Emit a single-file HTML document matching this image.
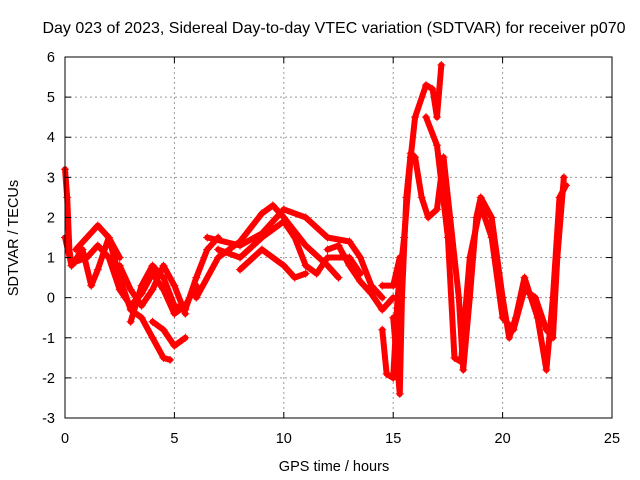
<!DOCTYPE html>
<html><head><meta charset="utf-8"><style>
body{margin:0;background:#fff;}
svg{display:block;font-family:"Liberation Sans",sans-serif;}
</style></head><body>
<svg id="chart" width="640" height="480">
<rect width="640" height="480" fill="#fff"/>
<text x="334" y="33" font-size="16" text-anchor="middle">Day 023 of 2023, Sidereal Day-to-day VTEC variation (SDTVAR) for receiver p070</text>
<g id="grid"></g><g id="marks"></g><g id="axes"></g>
<text x="334" y="471" font-size="14.5" text-anchor="middle">GPS time / hours</text>
<text transform="translate(18,238) rotate(-90)" font-size="14.5" text-anchor="middle">SDTVAR / TECUs</text>
</svg>
<script>
const xTicks=[0,5,10,15,20,25];
const yTicks=[-3,-2,-1,0,1,2,3,4,5,6];
const track1=[[0,3.2],[0.1,2.5],[0.2,1.2],[0.3,0.8]];
const track2=[[0,1.5],[0.3,0.8],[0.8,1.2],[1.2,0.3],[1.5,0.7],[2,1.5],[2.5,1.0]];
const track3=[[0.5,1.2],[1,1.5],[1.5,1.8],[2,1.5],[2.5,0.5],[3,-0.3],[3.5,-0.5],[4,-1.0],[4.5,-1.5],[4.8,-1.55]];
const track4=[[2.5,0.8],[3,0.2],[3.5,-0.2],[4,0.2],[4.5,0.8],[5,0.3],[5.5,-0.4]];
const track5=[[3,-0.6],[3.5,0.3],[4,0.8],[4.5,0.5],[5,-0.2],[5.5,-0.3],[6,0.5],[6.5,1.2],[7,1.5]];
const track6=[[4,-0.6],[4.5,-0.8],[5,-1.2],[5.5,-1.0]];
const track7=[[6,0],[7,1.0],[8,1.4],[9,2.1],[9.5,2.3],[10,2.0],[11,1.3],[12,0.8],[12.5,0.5]];
const track8=[[6.5,1.5],[8,1.3],[9,1.6],[10,2.2],[11,2.0],[12,1.5],[13,1.4],[13.5,1.0],[14,0.3],[14.5,0.0]];
const track9=[[7,1.2],[8,1.0],[9,1.5],[10,1.9],[10.5,1.5],[11,0.8],[11.5,0.6],[12,1.0],[13,1.0],[13.5,0.6]];
const track10=[[8,0.7],[9,1.2],[10,0.8],[10.5,0.5],[11,0.6]];
const track11=[[14.5,-0.8],[14.7,-1.9],[15,-2.0],[15.2,0],[15.5,1.5],[15.8,3.5],[16,4.5],[16.5,5.3],[16.8,5.2],[17,4.5],[17.2,5.8]];
const track12=[[15,-0.5],[15.3,-2.4],[15.4,0],[15.6,2.5],[15.8,3.6],[16,3.5],[16.3,2.5],[16.6,2.0],[17,2.2],[17.3,3.5],[17.6,2],[18,0],[18.2,-1.8],[18.5,0],[18.8,2],[19,2.5],[19.5,2.0],[20,0],[20.3,-1.0],[20.6,-0.5],[21,0.5],[21.3,0],[21.6,-0.5],[22,-1.8],[22.3,0],[22.6,2.5],[22.9,2.8]];
const track13=[[16.5,4.5],[17,3.8],[17.5,1.5],[17.8,-1.5],[18.1,-1.6],[18.5,1.0],[19,2.3],[19.5,1.5],[20,-0.5],[20.5,-0.8],[21,0.2],[21.5,0],[22,-0.8],[22.3,-1.0],[22.5,1.0],[22.8,3.0]];
const track14=[[14.5,0.3],[15,0.3],[15.3,1.0]];
const track15=[[0.5,0.9],[1,1.0],[1.5,1.3],[2,1.0],[2.5,0.2],[3,-0.2],[3.5,0.1],[4,0.6],[4.5,0.2],[5,-0.4],[5.5,-0.2],[6,0.3]];
const track16=[[12,1.2],[12.5,1.3],[13,0.8],[13.5,0.4],[14,0.1],[14.5,-0.3],[15,0.0]];
const tracks=[track1,track2,track3,track4,track5,track6,track7,track8,track9,track10,track11,track12,track13,track14,track15,track16];
const L=65,R=612,T=57,B=418;
const xs=v=>L+(v-0)/(25-0)*(R-L);
const ys=v=>B-(v+3)/9*(B-T);
const NS='http://www.w3.org/2000/svg';
function mk(tag,attrs,parent){const e=document.createElementNS(NS,tag);for(const k in attrs)e.setAttribute(k,attrs[k]);parent.appendChild(e);return e;}
const grid=document.getElementById('grid'),axes=document.getElementById('axes'),marks=document.getElementById('marks');
xTicks.forEach(t=>{const x=xs(t);
 if(t>0&&t<25){const g=mk('line',{x1:x,x2:x,y1:T,y2:B,stroke:'#999','stroke-dasharray':'2,3','stroke-width':1},grid);
 
 }
 mk('line',{x1:x,x2:x,y1:B,y2:B-6,stroke:'#000'},axes);
 mk('line',{x1:x,x2:x,y1:T,y2:T+6,stroke:'#000'},axes);
 const tx=mk('text',{x:x,y:B+25,'font-size':14.5,'text-anchor':'middle'},axes);tx.textContent=t;
 
 
});
yTicks.forEach(t=>{const y=ys(t);
 if(t>-3&&t<6){const g=mk('line',{x1:L,x2:R,y1:y,y2:y,stroke:'#999','stroke-dasharray':'2,3','stroke-width':1},grid);
 
 }
 mk('line',{x1:L,x2:L+6,y1:y,y2:y,stroke:'#000'},axes);
 mk('line',{x1:R,x2:R-6,y1:y,y2:y,stroke:'#000'},axes);
 const tx=mk('text',{x:L-10,y:y+5,'font-size':14.5,'text-anchor':'end'},axes);tx.textContent=t;
 
 
});
const box=mk('rect',{x:L,y:T,width:R-L,height:B-T,fill:'none',stroke:'#000'},axes);


tracks.forEach(tr=>{
 const p=mk('polyline',{points:tr.map(d=>xs(d[0])+','+ys(d[1])).join(' '),fill:'none',stroke:'#f00','stroke-width':6,'stroke-linejoin':'round','stroke-linecap':'round'},marks);
 
 
 tr.forEach(d=>{const x=xs(d[0]),y=ys(d[1]);
  const m=mk('path',{d:`M${x-4},${y}H${x+4}M${x},${y-4}V${y+4}`,stroke:'#f00','stroke-width':1},marks);
  
  
 });
});
</script>
</body></html>
